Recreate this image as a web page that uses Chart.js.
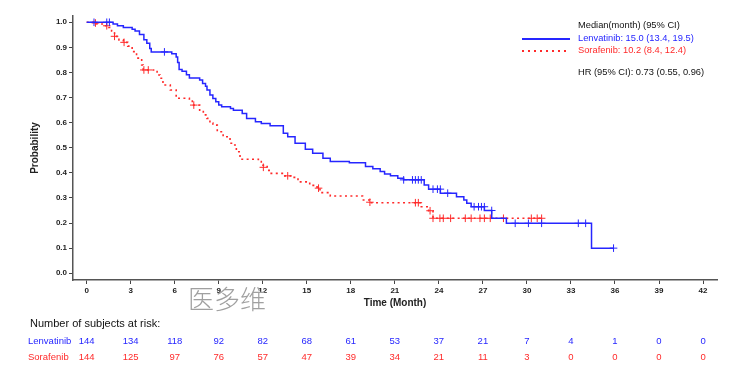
<!DOCTYPE html>
<html>
<head>
<meta charset="utf-8">
<script src="https://cdn.jsdelivr.net/npm/chart.js@4/dist/chart.umd.min.js"></script>
<style>
  body { margin: 0; background: #fff; }
  #wrap { position: relative; width: 747px; height: 379px; font-family: 'Liberation Sans', Arial, sans-serif; }
  #wrap canvas { position: absolute; left: 0; top: 0; }
  .txt { position: absolute; white-space: nowrap; line-height: 1; }
  .blue { color: #2626ff; }
  .red { color: #ff2a2a; }
</style>
</head>
<body>
<div id="wrap">
  <canvas id="km" width="747" height="379"></canvas>
  <div id="overlay"></div>
</div>
<script>
// Kaplan-Meier steps (time in months, survival probability)
const lenvTime = [0, 1.8, 2.1, 2.5, 3.1, 3.3, 3.6, 3.9, 4.1, 4.3, 4.4, 5.8, 6.1, 6.2, 6.3, 6.5, 6.8, 7.0, 7.7, 7.9, 8.1, 8.2, 8.4, 8.6, 8.8, 9.0, 9.2, 9.8, 10.0, 10.6, 10.9, 11.5, 11.9, 12.5, 13.4, 13.7, 14.2, 14.9, 15.4, 16.1, 16.6, 17.9, 19.0, 19.5, 20.0, 20.3, 20.7, 21.2, 21.6, 23.0, 23.3, 24.1, 25.2, 25.7, 25.9, 26.2, 27.1, 27.6, 28.6, 34.4, 35.9];
const lenvSurv = [1.0, 0.993, 0.986, 0.979, 0.972, 0.965, 0.951, 0.930, 0.916, 0.895, 0.882, 0.875, 0.862, 0.840, 0.812, 0.805, 0.791, 0.778, 0.770, 0.756, 0.745, 0.730, 0.710, 0.696, 0.683, 0.670, 0.663, 0.656, 0.649, 0.636, 0.617, 0.604, 0.597, 0.588, 0.558, 0.544, 0.518, 0.494, 0.478, 0.458, 0.445, 0.440, 0.425, 0.416, 0.405, 0.395, 0.388, 0.378, 0.372, 0.352, 0.335, 0.319, 0.305, 0.292, 0.279, 0.265, 0.250, 0.219, 0.199, 0.100, 0.100];
const lenvCensTime = [0.5, 1.37, 1.55, 5.3, 21.6, 22.2, 22.4, 22.6, 22.8, 23.6, 23.9, 24.1, 24.6, 26.4, 26.7, 26.9, 27.1, 27.6, 29.2, 30.1, 31.0, 33.5, 34.0, 35.9];
const lenvCensSurv = [1.0, 1.0, 1.0, 0.882, 0.372, 0.372, 0.372, 0.372, 0.372, 0.335, 0.335, 0.335, 0.319, 0.265, 0.265, 0.265, 0.265, 0.250, 0.199, 0.199, 0.199, 0.199, 0.199, 0.100];

const soraTime = [0, 0.7, 1.2, 1.5, 1.7, 1.9, 2.2, 2.5, 2.8, 3.1, 3.4, 3.75, 3.85, 4.8, 5.0, 5.2, 5.7, 6.1, 7.0, 7.2, 7.7, 7.95, 8.2, 8.4, 8.6, 8.9, 9.3, 9.77, 10.0, 10.2, 10.45, 11.7, 11.9, 12.3, 12.5, 13.5, 13.9, 14.4, 15.2, 15.7, 15.9, 16.6, 18.8, 19.3, 22.8, 23.3, 23.6, 31.0];
const soraSurv = [1.0, 0.993, 0.986, 0.979, 0.965, 0.944, 0.930, 0.920, 0.905, 0.883, 0.857, 0.830, 0.810, 0.790, 0.777, 0.750, 0.730, 0.697, 0.690, 0.670, 0.644, 0.631, 0.617, 0.598, 0.590, 0.564, 0.544, 0.518, 0.511, 0.484, 0.454, 0.445, 0.430, 0.410, 0.398, 0.388, 0.382, 0.364, 0.350, 0.339, 0.321, 0.308, 0.292, 0.281, 0.265, 0.249, 0.219, 0.219];
const soraCensTime = [0.6, 1.37, 1.9, 2.55, 3.9, 4.2, 7.3, 12.04, 13.7, 15.8, 19.3, 22.4, 22.6, 23.4, 23.6, 24.07, 24.3, 24.8, 25.8, 26.2, 26.8, 27.1, 27.5, 28.4, 30.3, 30.7, 31.0];
const soraCensSurv = [0.997, 0.986, 0.944, 0.920, 0.810, 0.810, 0.670, 0.422, 0.388, 0.339, 0.283, 0.281, 0.281, 0.249, 0.219, 0.219, 0.219, 0.219, 0.219, 0.219, 0.219, 0.219, 0.219, 0.219, 0.219, 0.219, 0.219];

const xTicks = [0, 3, 6, 9, 12, 15, 18, 21, 24, 27, 30, 33, 36, 39, 42];
const yTicks = [0, 0.1, 0.2, 0.3, 0.4, 0.5, 0.6, 0.7, 0.8, 0.9, 1.0];

// numbers at risk, one per x tick
const riskTimes = xTicks;
const lenvRisk = [144, 134, 118, 92, 82, 68, 61, 53, 37, 21, 7, 4, 1, 0, 0];
const soraRisk = [144, 125, 97, 76, 57, 47, 39, 34, 21, 11, 3, 0, 0, 0, 0];

const BLUE = '#2626ff';
const RED = '#ff2a2a';
const INK = '#222';

const toPoints = (xs, ys) => xs.map((x, i) => ({ x, y: ys[i] }));

const tickFont = { family: "'Liberation Sans', Arial, sans-serif", size: 8, weight: 'bold' };
const titleFont = { family: "'Liberation Sans', Arial, sans-serif", size: 10, weight: 'bold' };

const chart = new Chart(document.getElementById('km'), {
  type: 'line',
  data: {
    datasets: [
      {
        label: 'Lenvatinib',
        data: toPoints(lenvTime, lenvSurv),
        stepped: 'before',
        borderColor: BLUE,
        borderWidth: 1.5,
        pointRadius: 0,
        fill: false
      },
      {
        label: 'Sorafenib',
        data: toPoints(soraTime, soraSurv),
        stepped: 'before',
        borderColor: RED,
        borderWidth: 1.6,
        borderDash: [2, 3.4],
        pointRadius: 0,
        fill: false
      },
      {
        label: 'Lenvatinib censored',
        data: toPoints(lenvCensTime, lenvCensSurv),
        showLine: false,
        pointStyle: 'cross',
        pointRadius: 3.8,
        borderColor: BLUE,
        borderWidth: 1
      },
      {
        label: 'Sorafenib censored',
        data: toPoints(soraCensTime, soraCensSurv),
        showLine: false,
        pointStyle: 'cross',
        pointRadius: 3.8,
        borderColor: RED,
        borderWidth: 1
      }
    ]
  },
  options: {
    responsive: false,
    animation: false,
    devicePixelRatio: 1,
    layout: { padding: { left: 0, top: 16, right: 30, bottom: 0 } },
    plugins: {
      legend: { display: false },
      tooltip: { enabled: false }
    },
    scales: {
      x: {
        type: 'linear',
        min: -0.93,
        max: 42.95,
        afterBuildTicks: (s) => { s.ticks = xTicks.map(v => ({ value: v })); },
        afterFit: (s) => { s.height = 99; },
        ticks: { font: tickFont, color: INK, padding: 2, maxRotation: 0, autoSkip: false },
        grid: { drawOnChartArea: false, drawTicks: true, tickLength: 4, color: '#444' },
        border: { color: '#555', width: 1.5 },
        title: { display: true, text: 'Time (Month)', font: titleFont, color: INK, padding: { top: 0, bottom: 70 } }
      },
      y: {
        min: -0.027,
        max: 1.025,
        afterBuildTicks: (s) => { s.ticks = yTicks.map(v => ({ value: v })); },
        afterFit: (s) => { s.width = 73; },
        ticks: { font: tickFont, color: INK, padding: 2, autoSkip: false, callback: (v) => v.toFixed(1) },
        grid: { drawOnChartArea: false, drawTicks: true, tickLength: 4, color: '#444' },
        border: { color: '#555', width: 1.5 },
        title: { display: true, text: 'Probability', font: titleFont, color: INK, padding: { top: 29, bottom: 0 } }
      }
    }
  }
});

// legend, HR, risk table and watermark as text on top of the canvas
const overlay = document.getElementById('overlay');
function addText(text, left, centerY, size, cls, extra) {
  const el = document.createElement('div');
  el.className = 'txt ' + (cls || '');
  el.textContent = text;
  el.style.left = left + 'px';
  el.style.top = (centerY - size / 2) + 'px';
  el.style.fontSize = size + 'px';
  if (extra) Object.assign(el.style, extra);
  overlay.appendChild(el);
  return el;
}

addText('Median(month) (95% CI)', 578, 26, 9.3, '', { color: '#111' });
addText('Lenvatinib: 15.0 (13.4, 19.5)', 578, 39, 9.3, 'blue');
addText('Sorafenib: 10.2 (8.4, 12.4)', 578, 51, 9.3, 'red');
addText('HR (95% CI): 0.73 (0.55, 0.96)', 578, 73, 9.3, '', { color: '#111' });

const blueSample = document.createElement('div');
Object.assign(blueSample.style, { position: 'absolute', left: '522px', top: '38px', width: '48px', height: '2px', background: BLUE });
overlay.appendChild(blueSample);
const redSample = document.createElement('div');
Object.assign(redSample.style, { position: 'absolute', left: '522px', top: '50px', width: '48px', height: '2px', background: `repeating-linear-gradient(to right, ${RED} 0 2px, transparent 2px 6px)` });
overlay.appendChild(redSample);

addText('医多维', 188, 298, 26, '', { color: '#a0a0a0', fontFamily: "'Noto Sans CJK SC', sans-serif", fontWeight: '300' });

addText('Number of subjects at risk:', 30, 323, 11, '', { color: '#111' });
addText('Lenvatinib', 28, 341, 9.5, 'blue');
addText('Sorafenib', 28, 357, 9.5, 'red');

const xScale = chart.scales.x;
riskTimes.forEach((t, i) => {
  const px = xScale.getPixelForValue(t);
  addText(String(lenvRisk[i]), px, 341, 9.5, 'blue', { transform: 'translateX(-50%)' });
  addText(String(soraRisk[i]), px, 357, 9.5, 'red', { transform: 'translateX(-50%)' });
});
</script>
</body>
</html>
